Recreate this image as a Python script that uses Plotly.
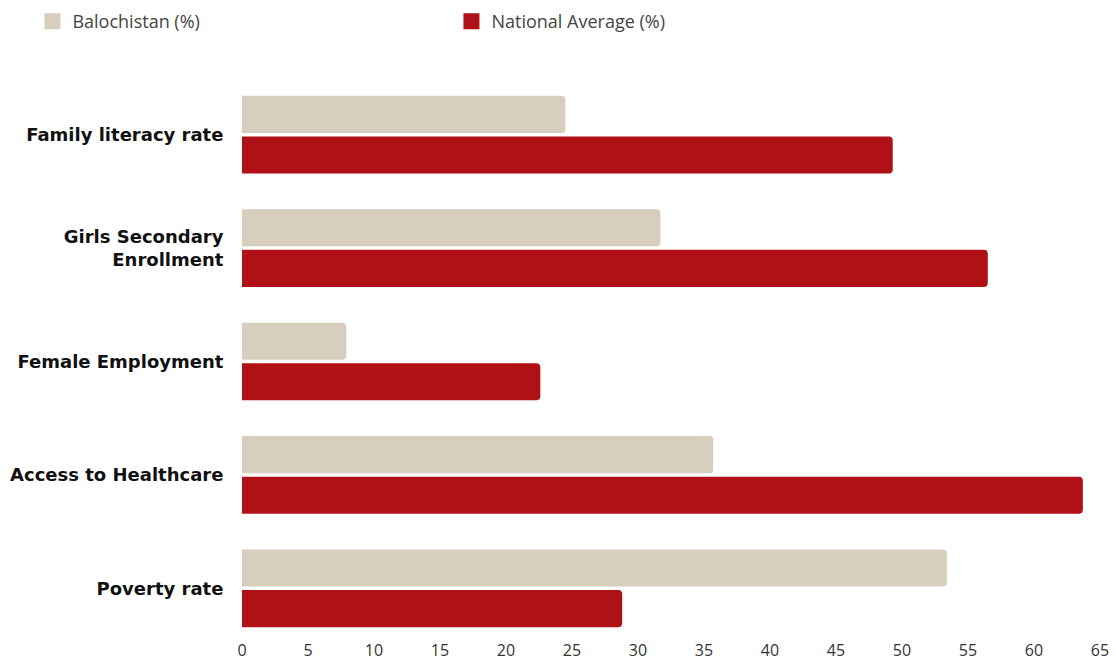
import plotly.graph_objects as go

# Indicator categories, top to bottom
categories = [
    "Family literacy rate",
    "Girls Secondary<br>Enrollment",
    "Female Employment",
    "Access to Healthcare",
    "Poverty rate",
]

# Percentages per indicator
balochistan = [24.5, 31.7, 7.9, 35.7, 53.4]
national_avg = [49.3, 56.5, 22.6, 63.7, 28.8]

x_ticks = list(range(0, 70, 5))

BEIGE = "#D7CEBD"
RED = "#B01116"

fig = go.Figure()

fig.add_trace(go.Bar(
    y=categories, x=balochistan, orientation="h",
    name="Balochistan (%)", marker=dict(color=BEIGE, cornerradius=4),
    showlegend=False,
))
fig.add_trace(go.Bar(
    y=categories, x=national_avg, orientation="h",
    name="National Average (%)", marker=dict(color=RED, cornerradius=4),
    showlegend=False,
))

# Legend keys as large square swatches
for name, color in [("Balochistan (%)", BEIGE), ("National Average (%)", RED)]:
    fig.add_trace(go.Scatter(
        x=[None], y=[None], mode="markers", name=name,
        marker=dict(color=color, symbol="square", size=18),
    ))

fig.update_layout(
    width=1115, height=666,
    template="none",
    paper_bgcolor="white", plot_bgcolor="white",
    margin=dict(l=242, r=15, t=78, b=21, autoexpand=False),
    barmode="group", bargap=0.284, bargroupgap=0.085,
    legend=dict(
        orientation="h", xref="container", yref="container",
        x=0.0291, y=0.9955, xanchor="left", yanchor="top",
        entrywidth=374, itemwidth=30, itemsizing="trace",
        font=dict(family="Open Sans", size=18, color="#444"),
        bgcolor="rgba(0,0,0,0)",
    ),
    xaxis=dict(
        range=[0, 65], tickvals=x_ticks, showgrid=False, zeroline=False,
        showline=False, ticks="", automargin=False, ticklabelstandoff=-6,
        tickfont=dict(family="Open Sans", size=16, color="#333"),
    ),
    yaxis=dict(
        categoryorder="array", categoryarray=categories, autorange="reversed",
        showgrid=False, zeroline=False, showline=False,
        ticks="outside", ticklen=14, tickcolor="rgba(0,0,0,0)", automargin=False,
        tickfont=dict(family="DejaVu Sans", size=18, color="#111", weight="bold"),
    ),
)

fig.write_html("out.html")
